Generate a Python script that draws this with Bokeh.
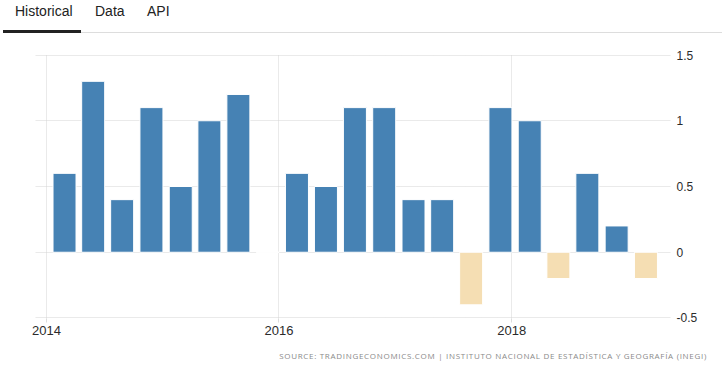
import pandas as pd
from bokeh.plotting import figure
from bokeh.layouts import column
from bokeh.models import (ColumnDataSource, Range1d, FixedTicker,
                          DatetimeTickFormatter, Div)
from bokeh.embed import file_html
from bokeh.resources import INLINE

# ---- data ----
quarters = ["2014Q1", "2014Q2", "2014Q3", "2014Q4",
            "2015Q1", "2015Q2", "2015Q3", "2015Q4",
            "2016Q1", "2016Q2", "2016Q3", "2016Q4",
            "2017Q1", "2017Q2", "2017Q3", "2017Q4",
            "2018Q1", "2018Q2", "2018Q3", "2018Q4",
            "2019Q1"]
growth = [0.6, 1.3, 0.4, 1.1,
          0.5, 1.0, 1.2, 0.0,
          0.6, 0.5, 1.1, 1.1,
          0.4, 0.4, -0.4, 1.1,
          1.0, -0.2, 0.6, 0.2,
          -0.2]
year_ticks = [2014, 2016, 2018]
y_ticks = [-0.5, 0, 0.5, 1, 1.5]
y_tick_labels = ["-0.5", "0", "0.5", "1", "1.5"]
tabs = ["Historical", "Data", "API"]
source_note = "SOURCE: TRADINGECONOMICS.COM | INSTITUTO NACIONAL DE ESTADÍSTICA Y GEOGRAFÍA (INEGI)"

POS_COLOR = "#4682B4"
NEG_COLOR = "#F5DEB3"
AXIS_FONT = "'Liberation Sans Narrow', 'Liberation Sans', sans-serif"

W = 722
TAB_H, FIG_H, NOTE_H = 34, 308, 33
ML, MR, MT, MB = 35, 52, 20, 24
epoch = pd.Timestamp("1970-01-01")
DAY_MS = 86400000.0


def to_ms(ts):
    return (ts - epoch) / pd.Timedelta(milliseconds=1)


# bar centres: quarter start shifted into the quarter
starts = pd.PeriodIndex(quarters, freq="Q").start_time
centers = [to_ms(t + pd.Timedelta(days=56.6)) for t in starts]
colors = [POS_COLOR if v >= 0 else NEG_COLOR for v in growth]
src = ColumnDataSource(dict(x=centers, top=growth, color=colors))

year_px = 116.3
frame_w = W - ML - MR
x_start = pd.Timestamp("2014-01-01") - pd.Timedelta(days=11 / year_px * 365.25)
x_end = x_start + pd.Timedelta(days=frame_w / year_px * 365.25)
bar_w = 23 / year_px * 365.25 * DAY_MS
eps = 0.004  # keep the end grid lines (range ends are skipped by grids)

# ---- tab strip ----
tab_html = (
    '<div style="position:relative;width:722px;height:34px;'
    'font-family:\'Liberation Sans\',Arial,sans-serif;font-size:14px;'
    'line-height:16px;color:#222;">'
    '<span style="position:absolute;left:15px;top:3px;">%s</span>'
    '<span style="position:absolute;left:95px;top:3px;">%s</span>'
    '<span style="position:absolute;left:147px;top:3px;">%s</span>'
    '<div style="position:absolute;left:81px;top:32px;width:641px;height:1px;background:#dddddd;"></div>'
    '<div style="position:absolute;left:3px;top:30px;width:78px;height:3px;background:#222;"></div>'
    '</div>' % tuple(tabs)
)
tab_div = Div(text=tab_html, width=W, height=TAB_H, margin=(0, 0, 0, 0))

# ---- main chart ----
p = figure(width=W, height=FIG_H, x_axis_type="datetime", y_axis_location="right",
           x_range=Range1d(to_ms(x_start), to_ms(x_end)),
           y_range=Range1d(-0.5 - eps, 1.5 + eps),
           toolbar_location=None, output_backend="svg",
           min_border_left=ML, min_border_right=MR, min_border_top=MT,
           min_border_bottom=MB, outline_line_color=None, margin=(0, 0, 0, 0))

p.vbar(x="x", top="top", bottom=0, width=bar_w, fill_color="color",
       line_color="white", line_width=1, source=src)

xt = FixedTicker(ticks=[to_ms(pd.Timestamp(f"{y}-01-01")) for y in year_ticks])
p.xaxis.ticker = xt
p.xaxis.formatter = DatetimeTickFormatter(years="%Y", months="%Y", days="%Y",
                                          hours="%Y", minutes="%Y", seconds="%Y",
                                          milliseconds="%Y")
p.xgrid.ticker = xt
p.yaxis.ticker = FixedTicker(ticks=y_ticks)
p.yaxis.major_label_overrides = {t: l for t, l in zip(y_ticks, y_tick_labels)}

for ax in (p.xaxis, p.yaxis):
    ax.axis_line_color = None
    ax.minor_tick_line_color = None
    ax.major_label_text_font = AXIS_FONT
    ax.major_label_text_color = "#2b2b2b"

p.xaxis.major_label_text_font_size = "13px"
p.yaxis.major_label_text_font_size = "12px"
p.xaxis.major_tick_in = 0
p.xaxis.major_tick_out = 4
p.xaxis.major_tick_line_color = "#dddddd"
p.xaxis.major_label_standoff = 3
p.yaxis.major_tick_line_color = None
p.yaxis.major_tick_in = 0
p.yaxis.major_tick_out = 0
p.yaxis.major_label_standoff = 6

p.grid.grid_line_color = "#d4d4d4"
p.grid.grid_line_dash = "1 1"
p.grid.grid_line_width = 1

# ---- source note ----
note_html = (
    '<div style="width:707px;height:33px;text-align:right;'
    'font-family:\'Open Sans\',sans-serif;font-size:8px;letter-spacing:0.7px;'
    'line-height:10px;padding-top:9px;color:#8a8a8a;white-space:nowrap;">%s</div>'
    % source_note
)
note_div = Div(text=note_html, width=W, height=NOTE_H, margin=(0, 0, 0, 0))

layout = column(tab_div, p, note_div, spacing=0)
open("out.html", "w").write(file_html(layout, INLINE))
